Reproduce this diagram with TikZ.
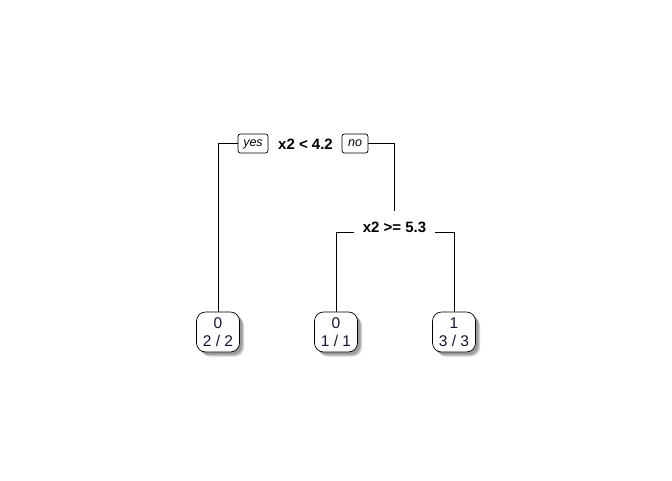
\documentclass[tikz,border=0pt]{standalone}
\usepackage{fontspec}
\setmainfont{Liberation Sans}
\usetikzlibrary{shadows}
\definecolor{leaftext}{RGB}{20,20,50}
\tikzset{
  split/.style={font=\fontsize{15}{18}\selectfont\bfseries, inner xsep=9pt, inner ysep=2pt},
  yesno/.style={draw, rounded corners=2.5pt, font=\fontsize{12.5}{14}\selectfont\itshape, minimum height=19pt, text height=6.5pt, text depth=1pt, inner xsep=1.5pt, inner ysep=0pt, line width=0.7pt},
  leaf/.style={draw, fill=white, rounded corners=9pt, minimum width=43pt, minimum height=40pt, align=center, inner sep=0pt,
    font=\fontsize{15.5}{18}\selectfont, text=leaftext, line width=0.7pt,
    drop shadow={shadow xshift=4.5pt, shadow yshift=-4.5pt, fill=black!18, opacity=1},
    drop shadow={shadow xshift=3pt, shadow yshift=-3pt, fill=black!38, opacity=1}},
  edge/.style={draw, line width=0.8pt}
}
\begin{document}
\begin{tikzpicture}[x=1pt,y=-1pt]
\useasboundingbox (0,0) rectangle (672,480);
\node[split] (r) at (305.5,144) {x2 < 4.2};
\node[yesno, minimum width=30pt] (yes) at (253,143.5) {yes};
\node[yesno, minimum width=26pt] (no) at (355,143.5) {no};
\node[split] (s2) at (394.5,227) {x2 >= 5.3};
\node[leaf] (l1) at (218,332) {0\\2 / 2};
\node[leaf] (l2) at (336,332) {0\\1 / 1};
\node[leaf] (l3) at (454,332) {1\\3 / 3};
\draw[edge] (yes.west) -| (l1.north);
\draw[edge] (no.east) -| ([yshift=8pt]s2.north);
\draw[edge] ([yshift=-5pt]s2.west) -| (l2.north);
\draw[edge] ([yshift=-5pt]s2.east) -| (l3.north);
\end{tikzpicture}
\end{document}
